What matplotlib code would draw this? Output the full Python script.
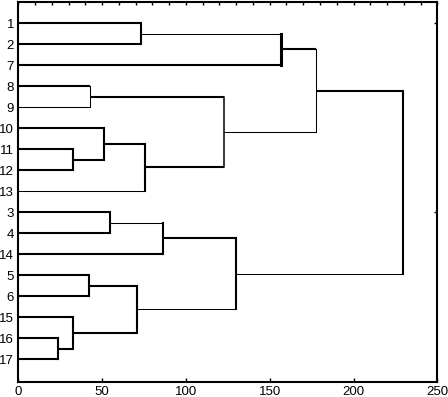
import matplotlib
matplotlib.use("Agg")
import matplotlib.pyplot as plt
from matplotlib.ticker import MultipleLocator, FixedLocator

plt.rcParams['font.family'] = ['Liberation Sans', 'DejaVu Sans']

# Leaf labels in the displayed order (top to bottom)
leaf_labels = ['1', '2', '7', '8', '9', '10', '11', '12', '13',
               '3', '4', '14', '5', '6', '15', '16', '17']

# Merges: (child_a, child_b, height); leaves are 0..16, new nodes 17..
merge_a = [0, 3, 6, 5, 20, 18, 17, 23, 9, 25, 12, 15, 14, 27, 26, 24]
merge_b = [1, 4, 7, 19, 8, 21, 2, 22, 10, 11, 13, 16, 28, 29, 30, 31]
merge_h = [73.2, 43.0, 32.5, 51.3, 75.4, 122.6, 156.6, 177.8,
           54.7, 86.5, 42.2, 23.9, 32.5, 70.8, 129.7, 229.7]

x_ticks = [0, 50, 100, 150, 200, 250]

# Line-width styles (points)
TK, TN = 1.5, 0.75
branch_lw = [TK, TK, TK, TK, TN, TK, TK, TK, TN, TK, TK, TK, TK, TK, TK, TK, TK,
             TN, TK, TK, TK, TK, TN, TK, TK, TN, TK, TK, TK, TK, TN, TN]
vert_lw = [TK, TN, TK, TK, TK, 1.1, 2.2, TN, TK, TK, TK, TK, TK, TK, TK, TK]

n = len(leaf_labels)
pos_y = {i: float(i) for i in range(n)}
pos_x = {i: 0.0 for i in range(n)}
parent = {}
for k, (a, b, h) in enumerate(zip(merge_a, merge_b, merge_h)):
    node = n + k
    pos_y[node] = (pos_y[a] + pos_y[b]) / 2
    pos_x[node] = h
    parent[a] = node
    parent[b] = node

fig = plt.figure(figsize=(4.48, 3.97), dpi=100)
ax = fig.add_axes([18.3 / 448, 1 - 381.7 / 397, 419 / 448, 379.7 / 397])

# horizontal branches
for node, par in parent.items():
    ax.plot([pos_x[node], pos_x[par]], [pos_y[node], pos_y[node]],
            color='black', lw=branch_lw[node], solid_capstyle='butt')
# vertical joins
for k, (a, b) in enumerate(zip(merge_a, merge_b)):
    node = n + k
    ax.plot([pos_x[node], pos_x[node]], [pos_y[a], pos_y[b]],
            color='black', lw=vert_lw[k], solid_capstyle='projecting')

ax.set_xlim(0, 250)
ax.set_ylim(17.08, -1)
ax.set_xticks(x_ticks)
ax.set_xticklabels([str(t) for t in x_ticks], fontsize=9.5)
ax.set_yticks(range(n))
ax.set_yticklabels(leaf_labels, fontsize=9.5)
ax.tick_params(axis='y', left=False, length=0, pad=3)
ax.tick_params(axis='x', direction='in', length=3, width=1, pad=3,
               top=False, bottom=True)

sec = ax.secondary_xaxis('top')
sec.xaxis.set_major_locator(MultipleLocator(10))
sec.tick_params(direction='in', length=2, width=1, labeltop=False)
sec.spines['top'].set_visible(False)

sec_y = ax.secondary_yaxis('right')
sec_y.yaxis.set_major_locator(FixedLocator([0, 9]))
sec_y.tick_params(direction='in', length=2, width=1, labelright=False)
sec_y.spines['right'].set_visible(False)

for sp in ax.spines.values():
    sp.set_linewidth(1.5)

fig.savefig('out.png', dpi=100)
